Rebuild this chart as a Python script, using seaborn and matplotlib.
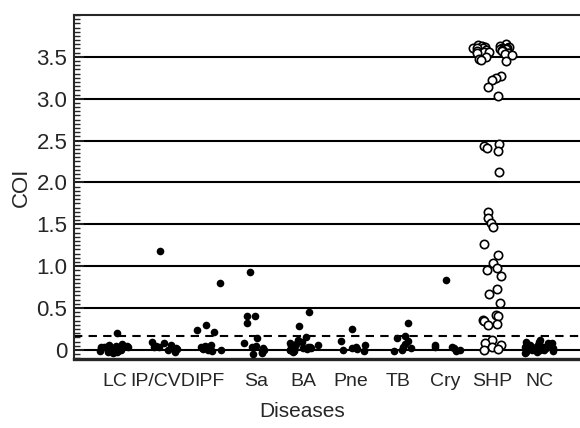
import numpy as np
import pandas as pd
import seaborn as sns
import matplotlib.pyplot as plt
from matplotlib.ticker import MultipleLocator

categories = ['LC', 'IP/CVD', 'IPF', 'Sa', 'BA', 'Pne', 'TB', 'Cry', 'SHP', 'NC']

lc = [0.20, 0.07, 0.06, 0.05, 0.05, 0.04, 0.04, 0.03, 0.03, 0.02, 0.02,
      0.01, 0.01, 0.0, 0.0, -0.01, -0.01, -0.02, -0.03, -0.04, 0.04, 0.02]
ip_cvd = [1.18, 0.10, 0.08, 0.06, 0.05, 0.04, 0.03, 0.02, 0.01, 0.0, -0.02]
ipf = [0.80, 0.30, 0.24, 0.21, 0.06, 0.05, 0.04, 0.03, 0.03, 0.02, 0.01,
       0.0, 0.0, -0.01, 0.02]
sa = [0.93, 0.41, 0.40, 0.32, 0.14, 0.08, 0.05, 0.03, 0.02, 0.0, -0.02,
      -0.04, -0.05]
ba = [0.45, 0.29, 0.15, 0.12, 0.10, 0.08, 0.07, 0.06, 0.05, 0.04, 0.03,
      0.02, 0.02, 0.01, 0.0, 0.0, -0.01, -0.02, 0.05, 0.03]
pne = [0.25, 0.11, 0.06, 0.04, 0.02, 0.01, 0.0, -0.01]
tb = [0.32, 0.17, 0.14, 0.11, 0.07, 0.03, 0.02, 0.0, -0.01]
cry = [0.84, 0.06, 0.04, 0.03, 0.02, 0.0, -0.01]
shp = [3.65, 3.64, 3.63, 3.63, 3.62, 3.62, 3.61, 3.61, 3.60, 3.60, 3.60,
       3.59, 3.59, 3.58, 3.58, 3.57, 3.57, 3.56, 3.56, 3.55, 3.55, 3.54,
       3.53, 3.52, 3.50, 3.48, 3.46, 3.45, 3.27, 3.25, 3.22, 3.14, 3.03,
       2.46, 2.43, 2.41, 2.38, 2.12, 1.65, 1.57, 1.52, 1.47, 1.26, 1.13,
       1.04, 0.98, 0.96, 0.88, 0.73, 0.67, 0.56, 0.42, 0.40, 0.36, 0.34,
       0.31, 0.30, 0.12, 0.08, 0.06, 0.03, 0.01, 0.0]
nc = [0.12, 0.10, 0.09, 0.08, 0.08, 0.07, 0.06, 0.06, 0.05, 0.05, 0.04,
      0.04, 0.03, 0.03, 0.03, 0.02, 0.02, 0.01, 0.01, 0.0, 0.0, -0.01,
      -0.02, -0.03, -0.04, 0.05, 0.02, 0.0]

cutoff = 0.16
yticks = [0, 0.5, 1.0, 1.5, 2.0, 2.5, 3.0, 3.5]
ytick_labels = ['0', '0.5', '1.0', '1.5', '2.0', '2.5', '3.0', '3.5']

groups = [lc, ip_cvd, ipf, sa, ba, pne, tb, cry, shp, nc]
df = pd.DataFrame({
    'disease': [c for c, g in zip(categories, groups) for _ in g],
    'coi': [v for g in groups for v in g],
})

sns.set_style('ticks')
plt.rcParams['font.family'] = ['Liberation Sans', 'DejaVu Sans']
np.random.seed(3)

fig = plt.figure(figsize=(5.8, 4.28), dpi=100)
ax = fig.add_axes([0.128, 0.161, 0.872, 0.804])

filled = df[df['disease'] != 'SHP']
shp_top = df[(df['disease'] == 'SHP') & (df['coi'] > 3.4)]
shp_rest = df[(df['disease'] == 'SHP') & (df['coi'] <= 3.4)]

sns.stripplot(data=filled, x='disease', y='coi', order=categories,
              color='black', size=5.5, jitter=0.33, ax=ax, zorder=3)
sns.stripplot(data=shp_top, x='disease', y='coi', order=categories,
              color='white', edgecolor='black', linewidth=1.2, size=6,
              jitter=0.45, ax=ax, zorder=3)
sns.stripplot(data=shp_rest, x='disease', y='coi', order=categories,
              color='white', edgecolor='black', linewidth=1.2, size=6,
              jitter=0.2, ax=ax, zorder=3)

ax.axhline(cutoff, color='black', lw=1.5, ls=(0, (4, 3)), zorder=2)

ax.set_ylim(-0.11, 4.0)
ax.set_xlim(-0.87, 9.87)
ax.set_yticks(yticks)
ax.set_yticklabels(ytick_labels)
ax.yaxis.set_minor_locator(MultipleLocator(0.05))
ax.yaxis.grid(True, which='major', color='black', lw=1.5)
ax.set_axisbelow(True)

ax.spines['right'].set_visible(False)
for side in ['left', 'top']:
    ax.spines[side].set_linewidth(1.5)
ax.spines['bottom'].set_linewidth(2.4)

ax.tick_params(axis='y', which='major', direction='in', length=7, width=1.2,
               labelsize=16, pad=5)
ax.tick_params(axis='y', which='minor', direction='in', length=4, width=1)
ax.tick_params(axis='x', length=0, labelsize=14, pad=10)

ax.set_xlabel('Diseases', fontsize=15)
ax.xaxis.set_label_coords((302 - 74) / 506, -0.125)
ax.set_ylabel('COI', fontsize=16, labelpad=3)

fig.savefig('out.png', dpi=100)
